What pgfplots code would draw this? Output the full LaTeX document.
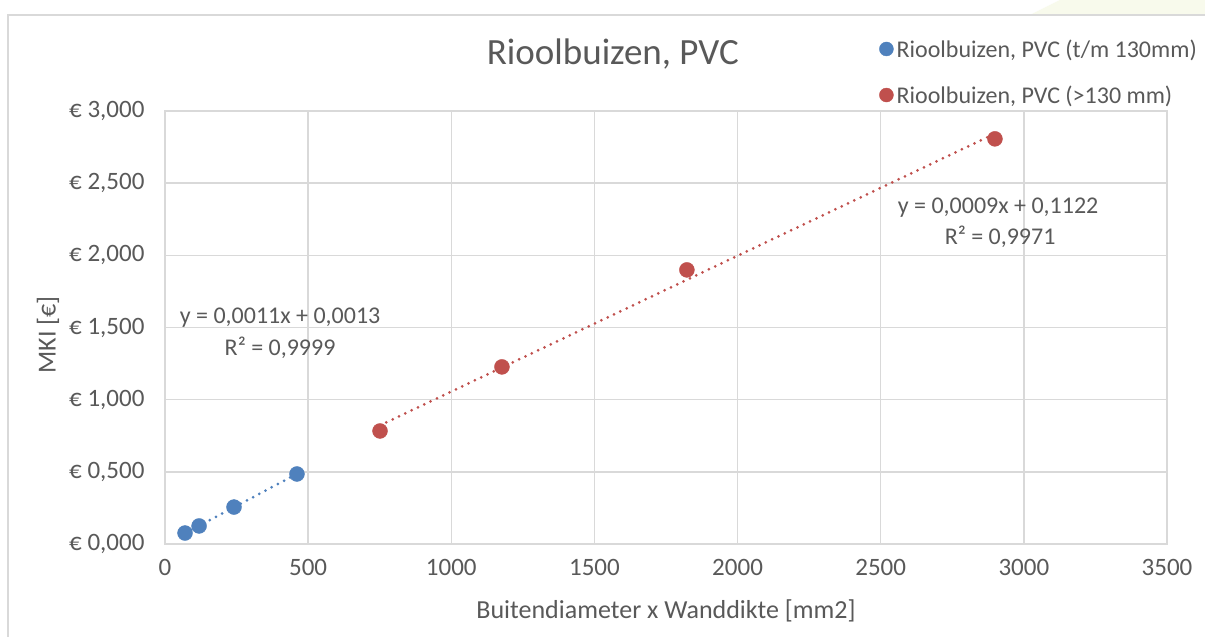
\documentclass[border=0pt]{standalone}
\usepackage{pgfplots}
\pgfplotsset{compat=1.18}
\usepackage{fontspec}
\setmainfont{Carlito}
\definecolor{txt}{HTML}{595959}
\definecolor{gridc}{HTML}{D9D9D9}
\definecolor{sblue}{HTML}{4F81BD}
\definecolor{sred}{HTML}{C0504D}
\definecolor{faint}{HTML}{F8FAEC}
\begin{document}
\begin{tikzpicture}[x=1pt,y=1pt]
\useasboundingbox (0,0) rectangle (1205,637);
\fill[white] (0,0) rectangle (1205,637);
\fill[faint] (1060,637) -- (1205,637) -- (1205,622) -- (1030,622) -- cycle;
\draw[gridc, line width=1.5pt] (8,-5) -- (8,622) -- (1215,622);
\begin{axis}[
  at={(165pt,93pt)}, anchor=south west,
  scale only axis, width=1002pt, height=433pt,
  xmin=0, xmax=3500, ymin=0, ymax=3,
  xtick={0,500,1000,1500,2000,2500,3000,3500},
  xticklabels={0,500,1000,1500,2000,2500,3000,3500},
  ytick={0,0.5,1,1.5,2,2.5,3},
  yticklabels={{€ 0,000},{€ 0,500},{€ 1,000},{€ 1,500},{€ 2,000},{€ 2,500},{€ 3,000}},
  grid=major,
  major grid style={gridc, line width=1.5pt},
  axis line style={gridc, line width=1.5pt},
  tick style={draw=none},
  ticklabel style={font=\fontsize{25}{28}\selectfont, text=txt},
  xticklabel style={yshift=-12pt},
  yticklabel style={xshift=-17pt},
  title={Rioolbuizen, PVC},
  title style={at={(rel axis cs:0.447,1.1178)}, anchor=center, font=\fontsize{37}{42}\selectfont, text=txt},
  xlabel={Buitendiameter x Wanddikte [mm2]},
  xlabel style={at={(rel axis cs:0.5,-0.1547)}, anchor=center, font=\fontsize{26}{30}\selectfont, text=txt},
  ylabel={MKI [€]},
  ylabel style={at={(rel axis cs:-0.1168,0.483)}, anchor=center, font=\fontsize{26}{30}\selectfont, text=txt},
  legend style={at={(rel axis cs:0.7126,1.168)}, anchor=north west, draw=none, fill=none,
    font=\fontsize{24}{28}\selectfont, text=txt, row sep=25pt, inner sep=0pt,
    nodes={inner sep=1pt}},
  legend cell align=left,
  legend image code/.code={\fill[#1] (0pt,0pt) circle (7pt); \path (9pt,0pt);},
  clip=false,
]
\addplot[sblue, line width=3pt, dash pattern=on 0pt off 7pt, line cap=round, forget plot]
  coordinates {(70,0.0752) (461,0.4854)};
\addplot[sred, line width=3pt, dash pattern=on 0pt off 7pt, line cap=round, forget plot]
  coordinates {(751,0.822) (2899,2.843)};
\addplot[only marks, mark=*, mark size=7.5pt, draw=sblue, fill=sblue, mark options={draw=sblue, fill=sblue}]
  coordinates {(70,0.076) (119,0.125) (241,0.256) (461,0.485)};
\addlegendentry{Rioolbuizen, PVC (t/m 130mm)}
\addplot[only marks, mark=*, mark size=7.5pt, draw=sred, fill=sred, mark options={draw=sred, fill=sred}]
  coordinates {(751,0.783) (1177,1.227) (1823,1.899) (2899,2.807)};
\addlegendentry{Rioolbuizen, PVC (>130 mm)}
\node[text=txt, font=\fontsize{24}{28}\selectfont] at (axis cs:402,1.566) {y = 0,0011x + 0,0013};
\node[text=txt, font=\fontsize{24}{28}\selectfont] at (axis cs:402,1.358) {R² = 0,9999};
\node[text=txt, font=\fontsize{24}{28}\selectfont] at (axis cs:2910,2.328) {y = 0,0009x + 0,1122};
\node[text=txt, font=\fontsize{24}{28}\selectfont] at (axis cs:2917,2.128) {R² = 0,9971};
\end{axis}
\end{tikzpicture}
\end{document}
